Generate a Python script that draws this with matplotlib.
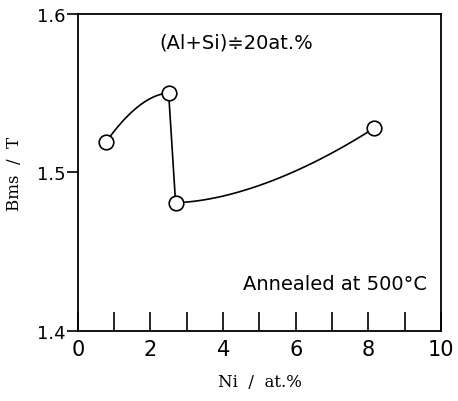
import numpy as np
import matplotlib
matplotlib.use("Agg")
import matplotlib.pyplot as plt

ni = [0.77, 2.5, 2.69, 8.16]
bms = [1.519, 1.550, 1.481, 1.528]
xticks = [0, 2, 4, 6, 8, 10]
yticks = [1.4, 1.5, 1.6]

fig = plt.figure(figsize=(4.58, 4.02), dpi=100)
ax = fig.add_axes([0.170, 0.174, 0.793, 0.789])

# connecting curves (hand-drawn look)
t = np.linspace(0, 1, 60)
x1 = ni[0] + (ni[1] - ni[0]) * t
y1 = bms[0] + (bms[1] - bms[0]) * (1 - (1 - t) ** 1.8)
x2 = ni[1] + (ni[2] - ni[1]) * t
y2 = bms[1] + (bms[2] - bms[1]) * t
x3 = ni[2] + (ni[3] - ni[2]) * t
y3 = bms[2] + (bms[3] - bms[2]) * t ** 1.7
for xs, ys in [(x1, y1), (x2, y2), (x3, y3)]:
    ax.plot(xs, ys, color='black', lw=1.2, zorder=2)
ax.plot(ni, bms, 'o', ms=10.5, mfc='white', mec='black', mew=1.2, zorder=3)

ax.set_xlim(0, 10)
ax.set_ylim(1.4, 1.6)
ax.set_xticks(range(0, 11))
ax.set_xticklabels([str(v) if v in xticks else '' for v in range(0, 11)],
                   fontsize=15, family='DejaVu Sans')
ax.tick_params(axis='x', direction='in', length=14, width=1.2, pad=6)
ax.set_yticks(yticks)
ax.set_yticklabels([f'{v:.1f}' for v in yticks], fontsize=13, family='DejaVu Sans')
ax.tick_params(axis='y', direction='out', length=8, width=1.2, pad=1)
for s in ax.spines.values():
    s.set_linewidth(1.3)

ax.set_xlabel('Ni  /  at.%', fontsize=12, family='DejaVu Serif', labelpad=10)
ax.set_ylabel('Bms  /  T', fontsize=12, family='DejaVu Serif', labelpad=10)

ax.text(4.37, 1.582, '(Al+Si)\u225120at.%', fontsize=14, ha='center', va='center',
        family='DejaVu Sans')
ax.text(9.6, 1.43, 'Annealed at 500\u00b0C', fontsize=14, ha='right', va='center',
        family='DejaVu Sans')

fig.savefig('out.png', dpi=100)
